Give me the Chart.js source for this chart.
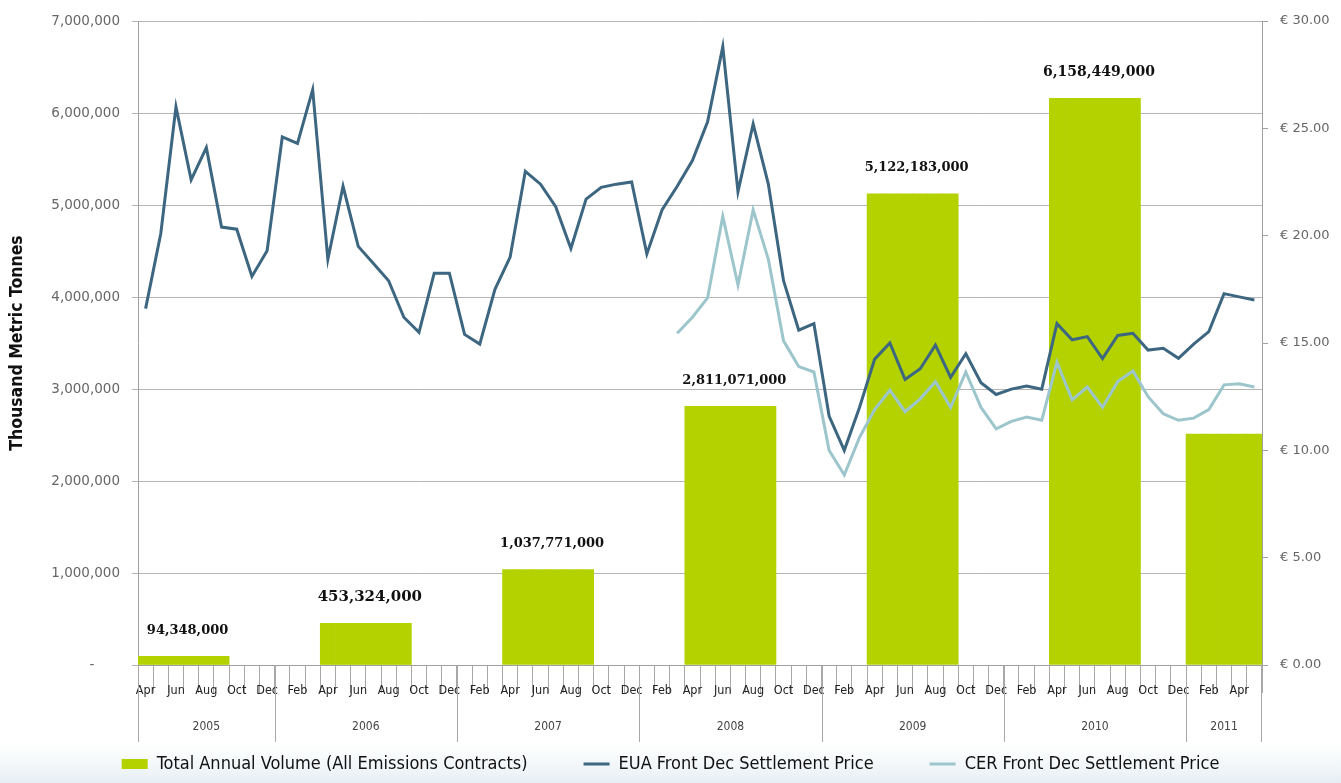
<!DOCTYPE html>
<html>
<head>
<meta charset="utf-8">
<title>Emissions volume and prices</title>
<script src="https://cdn.jsdelivr.net/npm/chart.js@4.4.0/dist/chart.umd.min.js"></script>
<style>
  html, body { margin: 0; padding: 0; background: #fff; }
  canvas { display: block; }
</style>
</head>
<body>
<canvas id="chart" width="1341" height="783"></canvas>
<script>
// Monthly categories, Apr 2005 - May 2011
const months = [
    'Apr 2005', 'May 2005', 'Jun 2005', 'Jul 2005', 'Aug 2005', 'Sep 2005', 'Oct 2005', 'Nov 2005', 'Dec 2005',
    'Jan 2006', 'Feb 2006', 'Mar 2006', 'Apr 2006', 'May 2006', 'Jun 2006', 'Jul 2006', 'Aug 2006', 'Sep 2006', 'Oct 2006', 'Nov 2006', 'Dec 2006',
    'Jan 2007', 'Feb 2007', 'Mar 2007', 'Apr 2007', 'May 2007', 'Jun 2007', 'Jul 2007', 'Aug 2007', 'Sep 2007', 'Oct 2007', 'Nov 2007', 'Dec 2007',
    'Jan 2008', 'Feb 2008', 'Mar 2008', 'Apr 2008', 'May 2008', 'Jun 2008', 'Jul 2008', 'Aug 2008', 'Sep 2008', 'Oct 2008', 'Nov 2008', 'Dec 2008',
    'Jan 2009', 'Feb 2009', 'Mar 2009', 'Apr 2009', 'May 2009', 'Jun 2009', 'Jul 2009', 'Aug 2009', 'Sep 2009', 'Oct 2009', 'Nov 2009', 'Dec 2009',
    'Jan 2010', 'Feb 2010', 'Mar 2010', 'Apr 2010', 'May 2010', 'Jun 2010', 'Jul 2010', 'Aug 2010', 'Sep 2010', 'Oct 2010', 'Nov 2010', 'Dec 2010',
    'Jan 2011', 'Feb 2011', 'Mar 2011', 'Apr 2011', 'May 2011'
];

const years = ['2005', '2006', '2007', '2008', '2009', '2010', '2011'];

// Total annual volume, thousand metric tonnes
const annualVolume = [94348, 453324, 1037771, 2811071, 5122183, 6158449, 2510000];
const volumeLabels = ['94,348,000', '453,324,000', '1,037,771,000', '2,811,071,000', '5,122,183,000', '6,158,449,000', null];
// months covered by each annual column
const volumeFrom = ['Apr 2005', 'Apr 2006', 'Apr 2007', 'Apr 2008', 'Apr 2009', 'Apr 2010', 'Jan 2011'];
const volumeTo = ['Sep 2005', 'Sep 2006', 'Sep 2007', 'Sep 2008', 'Sep 2009', 'Sep 2010', 'May 2011'];

// EUA front Dec settlement price, EUR
const euaPrice = [
    16.6, 20.1, 26.0, 22.6, 24.1, 20.4, 20.3, 18.1, 19.3,
    24.6, 24.3, 26.8, 18.9, 22.3, 19.5, 18.7, 17.9, 16.2, 15.5, 18.25, 18.25,
    15.4, 14.95, 17.5, 19.0, 23.0, 22.4, 21.35, 19.4, 21.7, 22.25, 22.4, 22.5,
    19.15, 21.2, 22.3, 23.5, 25.3, 28.8, 22.05, 25.2, 22.4, 17.9, 15.6, 15.9,
    11.6, 10.0, 12.0, 14.25, 15.0, 13.3, 13.8, 14.9, 13.4, 14.5, 13.15, 12.6,
    12.85, 13.0, 12.85, 15.9, 15.15, 15.3, 14.27, 15.35, 15.45, 14.67, 14.75, 14.29,
    14.95, 15.53, 17.3, 17.15, 17.0
];

// CER front Dec settlement price, EUR (starts Mar 2008)
const cerPrice = [
    null, null, null, null, null, null, null, null, null,
    null, null, null, null, null, null, null, null, null, null, null, null,
    null, null, null, null, null, null, null, null, null, null, null, null,
    null, null, 15.45, 16.2, 17.1, 20.9, 17.7, 21.2, 18.9, 15.1, 13.9, 13.65,
    10.0, 8.85, 10.6, 11.9, 12.8, 11.8, 12.4, 13.2, 12.0, 13.65, 12.0, 11.0,
    11.35, 11.55, 11.4, 14.1, 12.35, 12.95, 12.0, 13.2, 13.7, 12.5, 11.7, 11.4,
    11.5, 11.9, 13.05, 13.1, 12.95
];

// spread each annual column over the months it covers
const volumeByMonth = months.map(() => null);
years.forEach((yr, k) => {
    const a = months.indexOf(volumeFrom[k]);
    const b = months.indexOf(volumeTo[k]);
    for (let i = a; i <= b; i++) volumeByMonth[i] = annualVolume[k];
});

const condensed = '"DejaVu Sans Condensed", "Liberation Sans Narrow", Arial, sans-serif';
Chart.defaults.font.family = '"DejaVu Sans", Arial, sans-serif';

// faint bluish band at the bottom, like the source image
const backgroundPlugin = {
    id: 'pageBackground',
    beforeDraw(chart) {
        const { ctx, width, height } = chart;
        ctx.save();
        ctx.fillStyle = '#fff';
        ctx.fillRect(0, 0, width, height);
        const g = ctx.createLinearGradient(0, height - 40, 0, height);
        g.addColorStop(0, 'rgba(236, 242, 246, 0)');
        g.addColorStop(1, 'rgba(230, 238, 244, 1)');
        ctx.fillStyle = g;
        ctx.fillRect(0, height - 40, width, 40);
        ctx.restore();
    }
};

// Value labels above the annual columns
const volumeLabelPlugin = {
    id: 'volumeLabels',
    afterDatasetsDraw(chart, args, opts) {
        const { ctx, scales: { x, y } } = chart;
        ctx.save();
        ctx.fillStyle = '#111';
        ctx.textAlign = 'center';
        ctx.textBaseline = 'middle';
        years.forEach((yr, k) => {
            if (!volumeLabels[k]) return;
            const cx = (x.getPixelForValue(months.indexOf(volumeFrom[k])) + x.getPixelForValue(months.indexOf(volumeTo[k]))) / 2;
            const top = y.getPixelForValue(annualVolume[k]);
            ctx.font = 'bold ' + opts.sizes[k] + 'px "DejaVu Serif", serif';
            ctx.fillText(volumeLabels[k], cx + opts.shiftX, top - opts.gap);
        });
        ctx.restore();
    }
};

// Second level of the category axis: years with separators
const yearAxisPlugin = {
    id: 'yearAxis',
    afterDraw(chart, args, opts) {
        const { ctx, chartArea, scales: { x } } = chart;
        const half = (x.getPixelForValue(1) - x.getPixelForValue(0)) / 2;
        ctx.save();
        ctx.strokeStyle = opts.lineColor;
        ctx.lineWidth = 1;
        ctx.fillStyle = opts.color;
        ctx.font = opts.font;
        ctx.textAlign = 'center';
        ctx.textBaseline = 'middle';
        let lastRight = null;
        years.forEach(yr => {
            const idx = [];
            months.forEach((m, i) => { if (m.endsWith(yr)) idx.push(i); });
            const x0 = x.getPixelForValue(idx[0]) - half;
            const x1 = x.getPixelForValue(idx[idx.length - 1]) + half;
            const px = Math.round(x0) + 0.5;
            ctx.beginPath();
            ctx.moveTo(px, chartArea.bottom);
            ctx.lineTo(px, opts.bottom);
            ctx.stroke();
            ctx.fillText(yr, (x0 + x1) / 2, opts.textY);
            lastRight = x1;
        });
        const pr = Math.round(lastRight) - 0.5;
        ctx.beginPath();
        ctx.moveTo(pr, chartArea.bottom);
        ctx.lineTo(pr, opts.bottom);
        ctx.stroke();
        ctx.restore();
    }
};

const ctx = document.getElementById('chart').getContext('2d');
new Chart(ctx, {
    type: 'bar',
    data: {
        labels: months,
        datasets: [
            {
                type: 'bar',
                label: 'Total Annual Volume (All Emissions Contracts)',
                data: volumeByMonth,
                backgroundColor: '#b3d200',
                borderWidth: 0,
                barPercentage: 1,
                categoryPercentage: 1,
                grouped: false,
                yAxisID: 'y',
                pointStyle: 'rect',
                order: 3
            },
            {
                type: 'line',
                label: 'EUA Front Dec Settlement Price',
                data: euaPrice,
                borderColor: '#3d6681',
                borderWidth: 3,
                pointRadius: 0,
                tension: 0,
                yAxisID: 'y2',
                pointStyle: 'line',
                order: 1
            },
            {
                type: 'line',
                label: 'CER Front Dec Settlement Price',
                data: cerPrice,
                borderColor: '#9cc6cc',
                borderWidth: 3,
                pointRadius: 0,
                tension: 0,
                yAxisID: 'y2',
                pointStyle: 'line',
                order: 2
            }
        ]
    },
    options: {
        responsive: false,
        devicePixelRatio: 1,
        animation: false,
        layout: { padding: { top: 21, left: 0, right: 0, bottom: 0 } },
        plugins: {
            legend: {
                position: 'bottom',
                labels: {
                    usePointStyle: true,
                    pointStyleWidth: 26,
                    boxHeight: 10,
                    padding: 56,
                    color: '#111',
                    font: { family: condensed, size: 18 },
                    sort: (a, b) => a.datasetIndex - b.datasetIndex
                }
            },
            tooltip: { enabled: false },
            volumeLabels: { sizes: [13, 15, 13, 13, 13, 14], gap: 26, shiftX: 4 },
            yearAxis: { textY: 727, bottom: 742, color: '#444', lineColor: '#a8a8a8', font: '12px ' + condensed }
        },
        scales: {
            x: {
                offset: true,
                grid: { display: true, offset: true, drawOnChartArea: false, drawTicks: true, tickLength: 28, color: '#a8a8a8' },
                border: { color: '#a0a0a0' },
                ticks: {
                    autoSkip: false,
                    maxRotation: 0,
                    minRotation: 0,
                    padding: -10,
                    color: '#222',
                    font: { family: condensed, size: 12.5 },
                    callback: (v, i) => (i % 2 === 0 ? months[i].split(' ')[0] : '')
                },
                afterFit: s => { s.height = 34; }
            },
            y: {
                position: 'left',
                min: 0,
                max: 7000000,
                ticks: {
                    stepSize: 1000000,
                    color: '#666',
                    font: { size: 13.5 },
                    padding: 12,
                    callback: v => (v === 0 ? '-      ' : v.toLocaleString('en-US'))
                },
                grid: { color: '#b4b4b4', tickLength: 6 },
                border: { color: '#a0a0a0' },
                title: {
                    display: true,
                    text: 'Thousand Metric Tonnes',
                    color: '#111',
                    font: { family: condensed, weight: 'bold', size: 17.5 },
                    padding: { top: 7, bottom: 0 }
                },
                afterFit: s => { s.width = 138; }
            },
            y2: {
                position: 'right',
                min: 0,
                max: 30,
                ticks: {
                    stepSize: 5,
                    color: '#666',
                    font: { size: 13 },
                    padding: 12,
                    callback: v => '€ ' + v.toFixed(2)
                },
                grid: { drawOnChartArea: false, tickLength: 6, color: '#a0a0a0' },
                border: { color: '#a0a0a0' },
                afterFit: s => { s.width = 79; }
            }
        }
    },
    plugins: [backgroundPlugin, volumeLabelPlugin, yearAxisPlugin]
});
</script>
</body>
</html>
